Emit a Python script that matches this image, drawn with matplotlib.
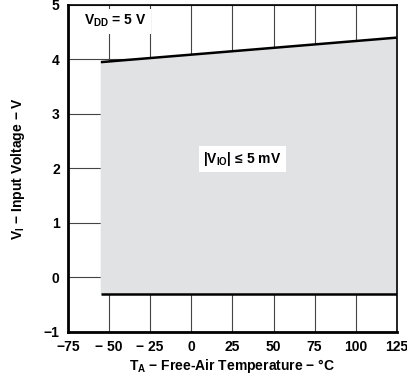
import matplotlib.pyplot as plt

plt.rcParams['font.family'] = ['Liberation Sans', 'DejaVu Sans']
plt.rcParams['font.weight'] = 'bold'
plt.rcParams['mathtext.default'] = 'regular'

# grenser for omraadet
temp = [-55, 125]
v_ovre = [3.95, 4.4]
v_nedre = [-0.3, -0.3]

x_ticks = [-75, -50, -25, 0, 25, 50, 75, 100, 125]
x_labels = ['\u221275', '\u2212 50', '\u2212 25', '0', '25', '50', '75', '100', '125']
y_ticks = [-1, 0, 1, 2, 3, 4, 5]
y_labels = ['\u22121', '0', '1', '2', '3', '4', '5']

fig = plt.figure(figsize=(4.07, 3.78), dpi=100)
ax = fig.add_axes([0.167, 0.122, 0.808, 0.865])

ax.fill_between(temp, v_nedre, v_ovre, color='#e1e2e4', zorder=2)
ax.plot(temp, v_ovre, color='black', lw=1.8, zorder=3, solid_capstyle='butt')
ax.plot(temp, v_nedre, color='black', lw=1.8, zorder=3, solid_capstyle='butt')

ax.set_xlim(-75, 125)
ax.set_ylim(-1, 5)
ax.set_xticks(x_ticks)
ax.set_xticklabels(x_labels)
ax.set_yticks(y_ticks)
ax.set_yticklabels(y_labels)
ax.tick_params(length=0, labelsize=10, pad=6)
ax.grid(color='#444444', lw=0.8, zorder=1)
ax.set_axisbelow(True)

for side in ['left', 'bottom']:
    ax.spines[side].set_linewidth(2)
for side in ['top', 'right']:
    ax.spines[side].set_linewidth(1.2)

ax.text(-46, 4.7, 'V$_{DD}$ = 5 V', fontsize=10, fontweight='bold', ha='center', va='center',
        bbox=dict(facecolor='white', edgecolor='none', pad=3), zorder=4)
ax.text(31, 2.17, '|V$_{IO}$| \u2264 5 mV', fontsize=10, fontweight='bold', ha='center', va='center',
        bbox=dict(facecolor='white', edgecolor='none', pad=3), zorder=4)

ax.set_xlabel('T$_{A}$ \u2212 Free-Air Temperature \u2212 \u00b0C', fontsize=10, fontweight='bold', labelpad=2)
ax.set_ylabel('V$_{I}$ \u2212 Input Voltage \u2212 V', fontsize=10, fontweight='bold', labelpad=12)

plt.savefig('out.png', dpi=100)
